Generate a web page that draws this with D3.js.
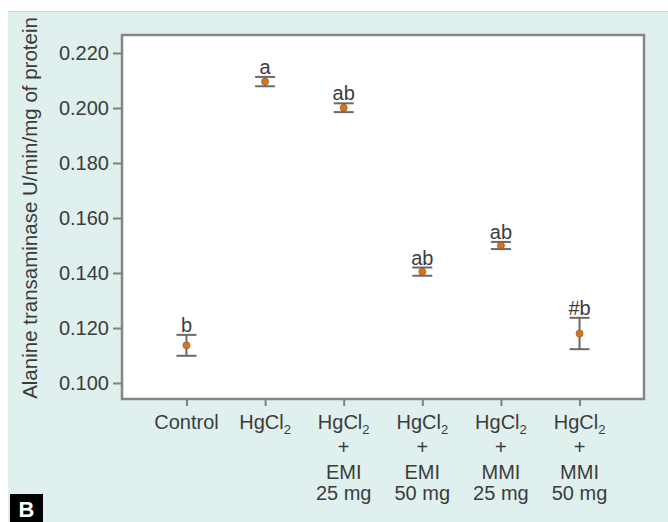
<!DOCTYPE html>
<html lang="en">
<head>
<meta charset="UTF-8">
<title>Alanine transaminase</title>
<script src="https://d3js.org/d3.v7.min.js"></script>
<style>
html,body{margin:0;padding:0;background:#fff}
svg{display:block;font-family:"Liberation Sans",Arial,sans-serif}
.axis text{fill:#3c3c3c;font-size:20px}
.axis line,.axis path{stroke:#808080;stroke-width:2}
</style>
</head>
<body>
<svg id="chart" width="668" height="522"></svg>
<script>
// group names, one line per row of the tick label
var groups = ['Control', 'HgCl2', 'HgCl2 EMI 25', 'HgCl2 EMI 50', 'HgCl2 MMI 25', 'HgCl2 MMI 50'];
var labelLines = [
  ['Control'],
  ['HgCl2'],
  ['HgCl2', '+', 'EMI', '25 mg'],
  ['HgCl2', '+', 'EMI', '50 mg'],
  ['HgCl2', '+', 'MMI', '25 mg'],
  ['HgCl2', '+', 'MMI', '50 mg']
];
var means = [0.1137, 0.2096, 0.2001, 0.1405, 0.1500, 0.1180];
var errs = [0.0038, 0.0017, 0.0016, 0.0015, 0.0013, 0.0057];
var marks = ['b', 'a', 'ab', 'ab', 'ab', '#b'];
var yTicks = [0.100, 0.120, 0.140, 0.160, 0.180, 0.200, 0.220];

var svg = d3.select('#chart');

// teal panel
svg.append('rect').attr('x', 8).attr('y', 11).attr('width', 660).attr('height', 511)
  .attr('fill', '#dff0ee');
svg.append('line').attr('x1', 8).attr('x2', 668).attr('y1', 11.5).attr('y2', 11.5)
  .attr('stroke', '#c9d6d4').attr('stroke-width', 1);

var box = { left: 122, top: 35, right: 644, bottom: 399 };

var x = d3.scalePoint().domain(groups).range([box.left, box.right]).padding(0.82);
var y = d3.scaleLinear().domain([0.100, 0.220]).range([383, 53]);

svg.append('rect')
  .attr('x', box.left).attr('y', box.top)
  .attr('width', box.right - box.left).attr('height', box.bottom - box.top)
  .attr('fill', '#fff').attr('stroke', '#858585').attr('stroke-width', 2.5);

// y axis ticks
var yAxis = d3.axisLeft(y).tickValues(yTicks).tickFormat(d3.format('.3f')).tickSize(9).tickPadding(4);
var gy = svg.append('g').attr('class', 'axis').attr('transform', 'translate(' + box.left + ',0)').call(yAxis);
gy.select('.domain').remove();

// x axis ticks with multi-line labels
var xAxis = d3.axisBottom(x).tickSize(7).tickFormat('');
var gx = svg.append('g').attr('class', 'axis').attr('transform', 'translate(0,' + box.bottom + ')').call(xAxis);
gx.select('.domain').remove();

var lineY = [429, 454, 479, 500];
groups.forEach(function(g, i) {
  var t = svg.append('text').attr('class', 'xl')
    .attr('text-anchor', 'middle').attr('fill', '#3c3c3c').attr('font-size', 20);
  labelLines[i].forEach(function(line, j) {
    var ts = t.append('tspan').attr('x', x(g)).attr('y', lineY[j]);
    if (line === 'HgCl2') {
      ts.text('HgCl');
      t.append('tspan').attr('font-size', 13).attr('dy', 5).text('2');
      t.append('tspan').attr('dy', -5).text('');
    } else {
      ts.text(line);
    }
  });
});

// y axis title
svg.append('text')
  .attr('transform', 'translate(37,208) rotate(-90)')
  .attr('text-anchor', 'middle').attr('fill', '#3c3c3c').attr('font-size', 20.5)
  .text('Alanine transaminase U/min/mg of protein');

// error bars
var eb = svg.append('g').attr('stroke', '#6a6a6a').attr('stroke-width', 2);
groups.forEach(function(g, i) {
  var cx = x(g), hi = y(means[i] + errs[i]), lo = y(means[i] - errs[i]);
  eb.append('line').attr('x1', cx).attr('x2', cx).attr('y1', hi).attr('y2', lo);
  eb.append('line').attr('x1', cx - 10).attr('x2', cx + 10).attr('y1', hi).attr('y2', hi);
  eb.append('line').attr('x1', cx - 10).attr('x2', cx + 10).attr('y1', lo).attr('y2', lo);
});

// points
svg.append('g').selectAll('circle').data(groups).join('circle')
  .attr('cx', function(d) { return x(d); })
  .attr('cy', function(d, i) { return y(means[i]); })
  .attr('r', 3.5)
  .attr('fill', '#d8741c').attr('stroke', '#9a5a20').attr('stroke-width', 0.8);

// significance letters
svg.append('g').selectAll('text').data(groups).join('text')
  .attr('x', function(d) { return x(d); })
  .attr('y', function(d, i) { return y(means[i] + errs[i]) - 3; })
  .attr('text-anchor', 'middle').attr('fill', '#3c3c3c').attr('font-size', 20)
  .text(function(d, i) { return marks[i]; });

// panel letter
svg.append('rect').attr('x', 10).attr('y', 494).attr('width', 33).attr('height', 28).attr('fill', '#000');
svg.append('text').attr('x', 26.5).attr('y', 517).attr('text-anchor', 'middle')
  .attr('fill', '#fff').attr('font-size', 22).attr('font-weight', 'bold').text('B');
</script>
</body>
</html>
